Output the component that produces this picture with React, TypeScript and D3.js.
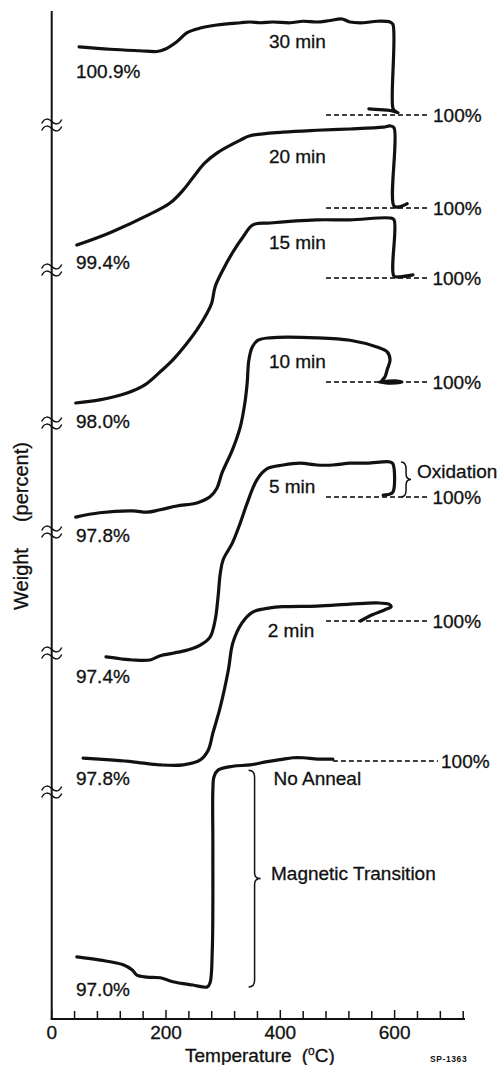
import React from "react";
import * as d3 from "d3";

// Thermogravimetric traces (temperature °C, weight %) after each anneal time
const min30Temp = [48, 102, 154, 184, 198, 219, 237, 260, 289, 330, 347, 365, 387, 417, 440, 464, 487, 508, 522, 545, 569, 592, 597, 597, 601, 606, 592, 574, 555];
const min30Weight = [100.9, 100.87, 100.85, 100.84, 100.87, 100.97, 101.09, 101.15, 101.19, 101.22, 101.23, 101.22, 101.23, 101.22, 101.24, 101.23, 101.25, 101.27, 101.23, 101.22, 101.24, 101.23, 101.2, 100.09, 100.05, 100.03, 100.06, 100.07, 100.08];

const min20Temp = [44, 102, 172, 207, 230, 251, 268, 289, 330, 347, 405, 464, 522, 580, 592, 599, 599, 609, 622];
const min20Weight = [99.4, 99.6, 99.9, 100.08, 100.29, 100.54, 100.73, 100.89, 101.1, 101.17, 101.23, 101.26, 101.28, 101.31, 101.33, 101.3, 100.03, 100.02, 100.07];

const min15Temp = [42, 84, 132, 163, 190, 212, 237, 254, 272, 280, 286, 298, 316, 335, 352, 382, 464, 522, 592, 599, 599, 609, 632];
const min15Weight = [98.0, 98.05, 98.16, 98.29, 98.5, 98.69, 98.96, 99.17, 99.44, 99.6, 99.86, 100.1, 100.4, 100.66, 100.85, 100.88, 100.93, 100.93, 100.96, 100.93, 100.03, 100.02, 100.05];

const min10Temp = [42, 84, 142, 167, 190, 219, 254, 277, 289, 298, 316, 330, 338, 342, 345, 351, 361, 382, 464, 522, 569, 587, 592, 587, 583, 578, 601, 613, 592, 574];
const min10Weight = [97.8, 97.87, 97.9, 97.88, 97.92, 97.98, 98.03, 98.13, 98.27, 98.52, 98.89, 99.27, 99.66, 99.98, 100.36, 100.57, 100.68, 100.72, 100.72, 100.68, 100.57, 100.49, 100.36, 100.2, 100.08, 100.02, 100.02, 100.0, 99.98, 100.0];

const min5Temp = [95, 120, 142, 172, 190, 212, 237, 260, 277, 286, 291, 295, 300, 316, 330, 342, 359, 377, 405, 435, 464, 492, 522, 552, 592, 597, 597, 589, 580];
const min5Weight = [97.4, 97.37, 97.35, 97.35, 97.42, 97.46, 97.51, 97.59, 97.72, 98.0, 98.37, 98.76, 98.98, 99.25, 99.58, 99.9, 100.28, 100.46, 100.52, 100.55, 100.52, 100.52, 100.55, 100.55, 100.57, 100.54, 100.08, 100.04, 100.03];

const min2Temp = [55, 102, 142, 190, 230, 260, 274, 282, 295, 309, 317, 333, 351, 382, 405, 464, 522, 569, 590, 594, 583, 561, 540];
const min2Weight = [97.8, 97.77, 97.74, 97.69, 97.69, 97.77, 97.93, 98.2, 98.62, 99.21, 99.65, 99.97, 100.14, 100.21, 100.23, 100.24, 100.27, 100.29, 100.27, 100.23, 100.18, 100.1, 100.0];

const noAnnealTemp = [44, 85, 125, 141, 149, 167, 190, 212, 247, 272, 277, 281, 282, 282, 284, 291, 317, 347, 377, 400, 422, 440, 466, 492];
const noAnnealWeight = [97.0, 96.95, 96.88, 96.8, 96.72, 96.69, 96.68, 96.62, 96.57, 96.54, 96.6, 97.11, 98.64, 99.56, 99.76, 99.86, 99.92, 99.94, 99.99, 100.02, 100.05, 100.05, 100.03, 100.03];

const panelNames = ["30 min", "20 min", "15 min", "10 min", "5 min", "2 min", "No Anneal"];
const panelTemps = [min30Temp, min20Temp, min15Temp, min10Temp, min5Temp, min2Temp, noAnnealTemp];
const panelWeights = [min30Weight, min20Weight, min15Weight, min10Weight, min5Weight, min2Weight, noAnnealWeight];
const referenceWeight = 100;

// Temperature axis
const tempDomain = [0, 720];
const tickStep = 40;
const labeledTicks = [0, 200, 400, 600];

// Stacked-panel layout: 100 % line position and vertical gain of each panel
const panelRefY = [115, 208, 278, 382, 497, 621, 761];
const panelPxPerPct = [75.6, 61.7, 62.5, 61.4, 61.5, 62.3, 65.3];
const panelNameT = [380, 380, 380, 380, 380, 378, 388];
const panelNameDy = [-67, -45, -29, -14, -4, 16, 24];
const startLabelDy = [31, 24, 25, 25, 26, 27, 39];
const refLineFrom = [480, 480, 480, 480, 480, 480, 492];
const refLineTo = [662, 662, 661, 661, 661, 661, 676];
const axisBreakY = [125, 270, 423, 532, 653, 792];

const FONT = "'Liberation Sans', Arial, Helvetica, sans-serif";
const INK = "#111";

const plotLeft = 51.7;
const plotTop = 11;
const plotBottom = 1019;
const axisRight = 465;

const xScale = d3.scaleLinear().domain(tempDomain).range([plotLeft, 463.2]);

const textStyle = {
  fontFamily: FONT,
  fontSize: 19,
  fill: INK,
  stroke: INK,
  strokeWidth: 0.3,
};

function bracePath(x: number, y0: number, y1: number, w: number) {
  const ym = (y0 + y1) / 2;
  const r = Math.min(7, (y1 - y0) / 5);
  return [
    `M${x - w},${y0}`,
    `Q${x},${y0} ${x},${y0 + r}`,
    `L${x},${ym - r * 0.8}`,
    `Q${x},${ym} ${x + w},${ym}`,
    `Q${x},${ym} ${x},${ym + r * 0.8}`,
    `L${x},${y1 - r}`,
    `Q${x},${y1} ${x - w},${y1}`,
  ].join(" ");
}

function tilde(x: number, cy: number) {
  return `M${x - 10},${cy + 2} C${x - 7},${cy - 4} ${x - 3},${cy - 3} ${x},${cy} S${x + 7},${cy + 4} ${x + 10},${cy - 2}`;
}

export default function App() {
  const panelScales = panelRefY.map((ref, i) =>
    d3
      .scaleLinear()
      .domain([referenceWeight, referenceWeight + 1])
      .range([ref, ref - panelPxPerPct[i]])
  );

  const ticks = d3.range(tempDomain[0], tempDomain[1] + 1, tickStep);

  // Oxidation gain (5 min) and magnetic transition (no anneal) spans
  const oxY = panelScales[4];
  const oxTop = oxY(d3.max(min5Weight) as number);
  const oxBottom = oxY(referenceWeight);
  const naY = panelScales[6];
  const magTop = naY(noAnnealWeight[15]);
  const magBottom = naY(d3.min(noAnnealWeight) as number);

  return (
    <div style={{ position: "absolute", left: 0, top: 0 }}>
      <svg width={500} height={1065} style={{ display: "block", background: "#fff" }}>
        <rect width={500} height={1065} fill="#fff" />

        {/* axes */}
        <line x1={plotLeft} y1={plotTop} x2={plotLeft} y2={plotBottom} stroke={INK} strokeWidth={2} />
        <line x1={plotLeft - 1} y1={plotBottom} x2={axisRight} y2={plotBottom} stroke={INK} strokeWidth={2} />
        {ticks.map((t) => (
          <line
            key={t}
            x1={xScale(t)}
            x2={xScale(t)}
            y1={plotBottom}
            y2={plotBottom - (labeledTicks.includes(t) ? 9 : 8)}
            stroke={INK}
            strokeWidth={1.5}
          />
        ))}
        {labeledTicks.map((t) => (
          <text key={t} x={xScale(t)} y={1039} textAnchor="middle" {...textStyle}>
            {t}
          </text>
        ))}
        <text x={185} y={1062} {...textStyle}>
          Temperature
          <tspan dx={10}>(</tspan>
          <tspan dy={-7} fontSize={12}>o</tspan>
          <tspan dy={7}>C)</tspan>
        </text>
        <text x={430} y={1062} fontFamily={FONT} fontSize={8.5} fontWeight="bold" fill={INK} letterSpacing={0.6}>
          SP-1363
        </text>
        <text transform="translate(28,526) rotate(-90)" textAnchor="middle" {...textStyle} fontSize={20}>
          Weight<tspan dx={26}>(percent)</tspan>
        </text>

        {/* axis breaks */}
        {axisBreakY.map((y) => (
          <g key={y} fill="none" stroke={INK} strokeWidth={1.5}>
            <path d={tilde(plotLeft, y - 3.5)} />
            <path d={tilde(plotLeft, y + 3.5)} />
          </g>
        ))}

        {/* panels */}
        {panelNames.map((name, i) => {
          const yS = panelScales[i];
          const pts: [number, number][] = panelTemps[i].map((t, k) => [t, panelWeights[i][k]]);
          const line = d3
            .line<[number, number]>()
            .x((d) => xScale(d[0]))
            .y((d) => yS(d[1]))
            .curve(d3.curveCatmullRom.alpha(0.5));
          const yRef = yS(referenceWeight);
          const startW = panelWeights[i][0];
          return (
            <g key={name}>
              <line
                x1={xScale(refLineFrom[i])}
                x2={xScale(refLineTo[i])}
                y1={yRef}
                y2={yRef}
                stroke="#000"
                strokeWidth={1.3}
                strokeDasharray="5,3"
              />
              <path
                d={line(pts) ?? ""}
                fill="none"
                stroke={INK}
                strokeWidth={3.2}
                strokeLinejoin="round"
                strokeLinecap="round"
              />
              <text x={xScale(refLineTo[i]) + 3} y={yRef + 7} {...textStyle}>
                {referenceWeight}%
              </text>
              <text x={xScale(panelNameT[i])} y={yRef + panelNameDy[i]} {...textStyle}>
                {name}
              </text>
              <text x={xScale(42.5)} y={yS(startW) + startLabelDy[i]} {...textStyle}>
                {startW.toFixed(1)}%
              </text>
            </g>
          );
        })}

        {/* annotations */}
        <path d={bracePath(xScale(620), oxTop, oxBottom, 5)} fill="none" stroke={INK} strokeWidth={1.5} />
        <text x={417} y={478} {...textStyle}>
          Oxidation
        </text>
        <path d={bracePath(xScale(355), magTop, magBottom, 6)} fill="none" stroke={INK} strokeWidth={1.5} />
        <text x={271} y={880} {...textStyle}>
          Magnetic Transition
        </text>
      </svg>
    </div>
  );
}
